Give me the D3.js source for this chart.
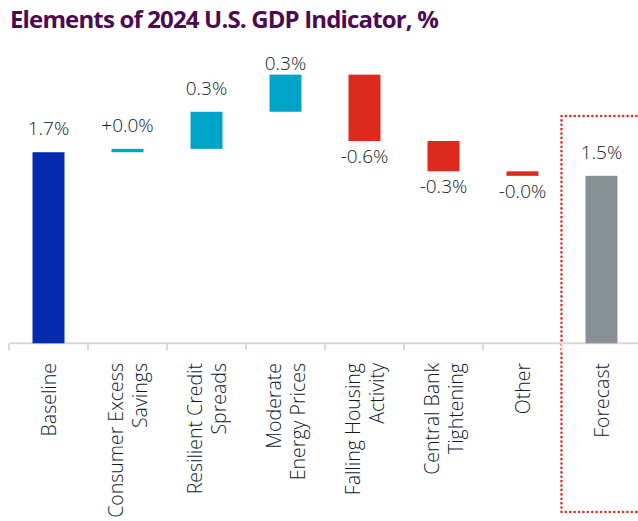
<!DOCTYPE html>
<html>
<head>
<meta charset="utf-8">
<script src="https://cdn.jsdelivr.net/npm/d3@7"></script>
<style>
  body { margin: 0; background: #fff; }
  svg { display: block; }
  .title { font-family: "Open Sans", sans-serif; font-weight: 700; fill: #4b0b4e; }
  .val { font-family: "Open Sans", sans-serif; font-weight: 300; font-size: 19px; fill: #0e1b2a; }
  .cat { font-family: "Open Sans", sans-serif; font-weight: 300; font-size: 19.5px; fill: #0e1b2a; }
</style>
</head>
<body>
<svg id="chart" width="638" height="521"></svg>
<script>
// chart data
const categories = [
  ["Baseline"],
  ["Consumer Excess", "Savings"],
  ["Resilient Credit", "Spreads"],
  ["Moderate", "Energy Prices"],
  ["Falling Housing", "Activity"],
  ["Central Bank", "Tightening"],
  ["Other"],
  ["Forecast"]
];
const kinds = ["total", "delta", "delta", "delta", "delta", "delta", "delta", "total"];
const values = [1.70, 0.03, 0.33, 0.33, -0.59, -0.27, -0.04, 1.49];
const valueLabels = ["1.7%", "+0.0%", "0.3%", "0.3%", "-0.6%", "-0.3%", "-0.0%", "1.5%"];

const colors = { base: "#0329ae", up: "#00a3c8", down: "#dc2a1f", forecast: "#879196" };

const svg = d3.select("#chart");

svg.append("text")
  .attr("class", "title")
  .attr("x", 10)
  .attr("y", 28)
  .style("font-size", "24px")
  .style("letter-spacing", "-0.85px")
  .text("Elements of 2024 U.S. GDP Indicator, %");

const x = d3.scaleBand()
  .domain(d3.range(categories.length))
  .range([9, 641]);

const y = d3.scaleLinear()
  .domain([0, 2.5])
  .range([343.3, 62.3]);

// waterfall steps
let run = 0;
const steps = values.map((v, i) => {
  let lo, hi;
  if (kinds[i] === "total") {
    lo = 0; hi = v; run = v;
  } else {
    const start = run;
    run = run + v;
    lo = Math.min(start, run); hi = Math.max(start, run);
  }
  let color = colors.up;
  if (i === 0) color = colors.base;
  else if (i === values.length - 1) color = colors.forecast;
  else if (v < 0) color = colors.down;
  return { i, v, lo, hi, color };
});

const barW = x.bandwidth() * 0.405;

// forecast highlight box
const fx = x(categories.length - 1);
svg.append("rect")
  .attr("x", fx - 0.5)
  .attr("y", 116)
  .attr("width", x.bandwidth() + 20)
  .attr("height", 396)
  .attr("fill", "none")
  .attr("stroke", "#e0312a")
  .attr("stroke-width", 2.6)
  .attr("stroke-linecap", "round")
  .attr("stroke-dasharray", "0.1,4.3");

// axis
const axisG = svg.append("g").attr("transform", `translate(0,${y(0)})`);
axisG.append("line")
  .attr("x1", 9).attr("x2", 638)
  .attr("stroke", "#dadada").attr("stroke-width", 2);
axisG.selectAll(".tick")
  .data(d3.range(categories.length))
  .join("line")
  .attr("x1", d => x(d)).attr("x2", d => x(d))
  .attr("y1", 0).attr("y2", 7)
  .attr("stroke", "#dadada").attr("stroke-width", 2);

svg.selectAll(".bar")
  .data(steps)
  .join("rect")
  .attr("class", "bar")
  .attr("x", d => x(d.i) + (x.bandwidth() - barW) / 2)
  .attr("y", d => y(d.hi))
  .attr("width", barW)
  .attr("height", d => Math.max(y(d.lo) - y(d.hi), 1))
  .attr("fill", d => d.color);

svg.selectAll(".val")
  .data(steps)
  .join("text")
  .attr("class", "val")
  .attr("text-anchor", "middle")
  .attr("x", d => x(d.i) + x.bandwidth() / 2)
  .attr("y", d => d.v < 0 ? y(d.lo) + 22 : Math.max(y(d.hi) - 17, 70))
  .text((d, i) => valueLabels[i]);

const catG = svg.selectAll(".cat")
  .data(categories)
  .join("text")
  .attr("class", "cat")
  .attr("text-anchor", "end")
  .attr("transform", (d, i) => `translate(${x(i) + x.bandwidth() / 2},363) rotate(-90)`);

catG.selectAll("tspan")
  .data(d => d.map((t, j) => ({ t, off: (j - (d.length - 1) / 2) * 24 + 7 })))
  .join("tspan")
  .attr("x", 0)
  .attr("y", d => d.off)
  .text(d => d.t);
</script>
</body>
</html>
